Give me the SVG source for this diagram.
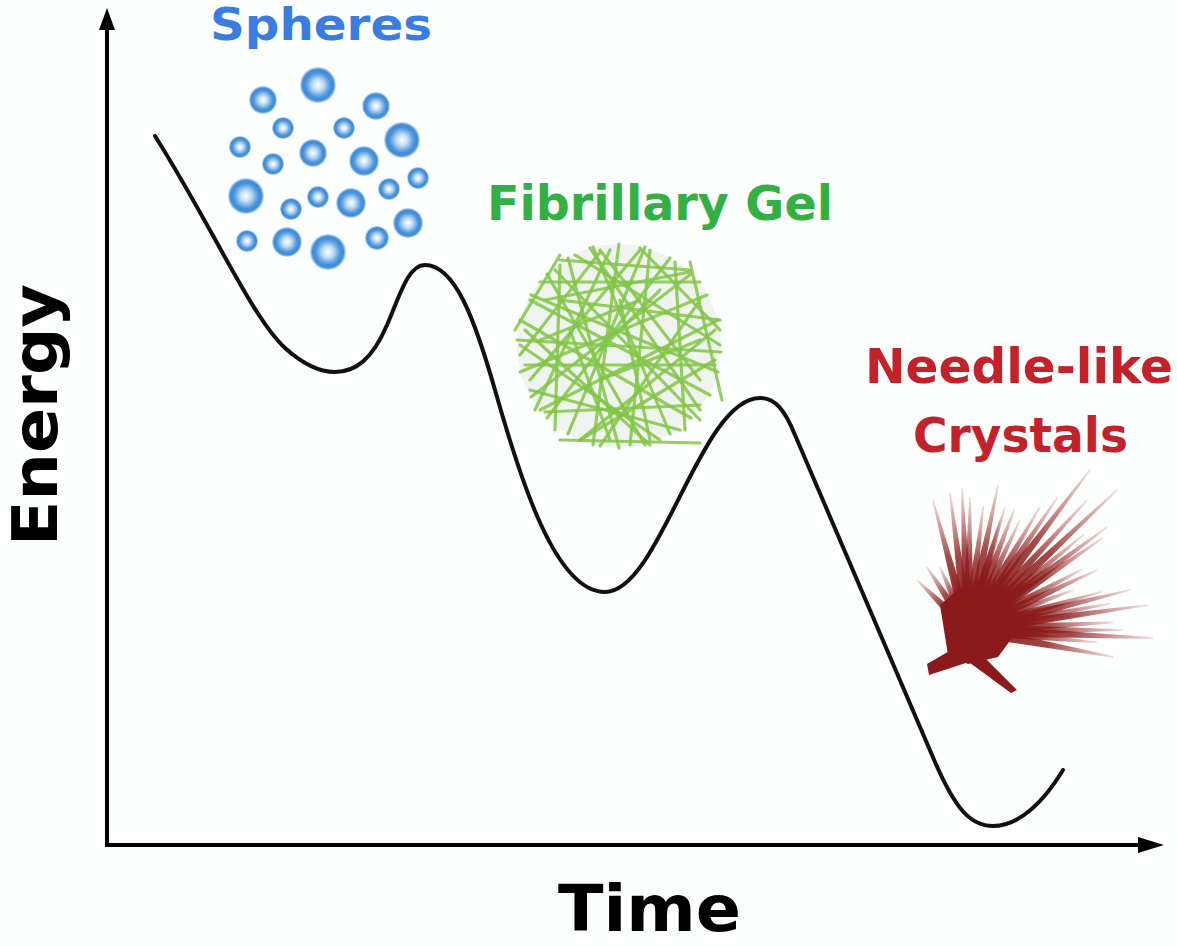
<svg xmlns="http://www.w3.org/2000/svg" xmlns:xlink="http://www.w3.org/1999/xlink" width="1177" height="946" viewBox="0 0 1177 946">
<style>
.lbl{font-family:"DejaVu Sans","Verdana",sans-serif;font-weight:bold;}
.axis{stroke:#000;stroke-width:4;fill:none;}
.curve{stroke:#111;stroke-width:4;fill:none;stroke-linecap:round;stroke-linejoin:round;}
.sph{fill:url(#sg);}
.fib{stroke:#82c646;stroke-width:3.2;stroke-opacity:0.85;stroke-linecap:round;}
</style>
<defs>
<radialGradient id="sg" cx="0.5" cy="0.5" r="0.5">
<stop offset="0" stop-color="#ffffff"/>
<stop offset="0.3" stop-color="#c4def6"/>
<stop offset="0.68" stop-color="#4a95dc"/>
<stop offset="0.86" stop-color="#3f8ad6"/>
<stop offset="1" stop-color="#8fbdea" stop-opacity="0.5"/>
</radialGradient>
<linearGradient id="ng" x1="0" y1="0" x2="1" y2="0">
<stop offset="0" stop-color="#8b1a1a" stop-opacity="1"/>
<stop offset="0.55" stop-color="#8b1a1a" stop-opacity="0.8"/>
<stop offset="1" stop-color="#a33030" stop-opacity="0.15"/>
</linearGradient>
<polygon id="nd" points="0,-6 100,-0.8 100,0.8 0,6" fill="url(#ng)"/>
</defs>
<rect width="1177" height="946" fill="#fdfefe"/>

<g id="axes">
<line class="axis" x1="107" y1="26" x2="107" y2="847"/>
<line class="axis" x1="105" y1="845" x2="1140" y2="845"/>
<polygon points="107,8 99,30 115,30" fill="#000"/>
<polygon points="1164,845 1138,837 1138,853" fill="#000"/>
</g>

<g id="energy-curve">
<path class="curve" d="M155,136 C212,226 252,318 285,348 C305,366 320,372 335,372 C355,372 372,360 387,325 C400,295 408,265 425,265 C455,265 475,320 495,390 C520,478 555,592 605,592 C660,592 700,398 760,398 C775,398 785,410 795,435 L935,762 C955,808 970,826 993,826 C1020,826 1045,800 1063,770"/>
</g>

<g id="spheres">
<text class="lbl" x="210" y="40" font-size="45" fill="#3a7de0" textLength="222" lengthAdjust="spacingAndGlyphs">Spheres</text>
<circle class="sph" cx="318" cy="85" r="18"/>
<circle class="sph" cx="263" cy="100" r="14"/>
<circle class="sph" cx="376" cy="106" r="14"/>
<circle class="sph" cx="283" cy="128" r="11"/>
<circle class="sph" cx="344" cy="128" r="11"/>
<circle class="sph" cx="402" cy="140" r="18"/>
<circle class="sph" cx="240" cy="147" r="11"/>
<circle class="sph" cx="313" cy="153" r="14"/>
<circle class="sph" cx="364" cy="161" r="15"/>
<circle class="sph" cx="273" cy="164" r="11"/>
<circle class="sph" cx="418" cy="178" r="11"/>
<circle class="sph" cx="246" cy="196" r="18"/>
<circle class="sph" cx="389" cy="189" r="11"/>
<circle class="sph" cx="318" cy="197" r="11"/>
<circle class="sph" cx="351" cy="203" r="15"/>
<circle class="sph" cx="291" cy="209" r="11"/>
<circle class="sph" cx="408" cy="223" r="15"/>
<circle class="sph" cx="247" cy="241" r="11"/>
<circle class="sph" cx="287" cy="242" r="15"/>
<circle class="sph" cx="328" cy="252" r="18"/>
<circle class="sph" cx="377" cy="238" r="12"/>
</g>

<g id="fibrillary-gel">
<text class="lbl" x="487" y="220" font-size="48" fill="#33b043" textLength="346" lengthAdjust="spacingAndGlyphs">Fibrillary Gel</text>
<circle cx="619" cy="346" r="102" fill="#f0f4f1"/>
<g class="fib">
<line x1="593" y1="247" x2="670" y2="434"/>
<line x1="645" y1="247" x2="568" y2="434"/>
<line x1="531" y1="295" x2="718" y2="372"/>
<line x1="520" y1="372" x2="707" y2="295"/>
<line x1="568" y1="258" x2="619" y2="448"/>
<line x1="670" y1="258" x2="547" y2="418"/>
<line x1="517" y1="340" x2="721" y2="352"/>
<line x1="520" y1="320" x2="691" y2="418"/>
<line x1="531" y1="397" x2="691" y2="274"/>
<line x1="547" y1="274" x2="645" y2="445"/>
<line x1="619" y1="244" x2="593" y2="445"/>
<line x1="718" y1="320" x2="540" y2="410"/>
<line x1="540" y1="282" x2="700" y2="282"/>
<line x1="545" y1="412" x2="700" y2="405"/>
<line x1="560" y1="265" x2="555" y2="430"/>
<line x1="675" y1="262" x2="685" y2="430"/>
<line x1="600" y1="250" x2="700" y2="380"/>
<line x1="530" y1="380" x2="640" y2="250"/>
<line x1="525" y1="330" x2="650" y2="445"/>
<line x1="580" y1="440" x2="715" y2="330"/>
<line x1="640" y1="248" x2="720" y2="330"/>
<line x1="520" y1="355" x2="600" y2="252"/>
<line x1="700" y1="300" x2="600" y2="446"/>
<line x1="530" y1="300" x2="710" y2="395"/>
<line x1="525" y1="365" x2="715" y2="365"/>
<line x1="555" y1="270" x2="700" y2="420"/>
<line x1="545" y1="300" x2="690" y2="272"/>
<line x1="575" y1="255" x2="720" y2="345"/>
<line x1="520" y1="345" x2="660" y2="440"/>
<line x1="650" y1="250" x2="630" y2="445"/>
<line x1="590" y1="248" x2="700" y2="410"/>
<line x1="535" y1="410" x2="610" y2="250"/>
<line x1="715" y1="360" x2="580" y2="440"/>
<line x1="560" y1="300" x2="720" y2="320"/>
<line x1="530" y1="390" x2="680" y2="430"/>
<line x1="620" y1="300" x2="650" y2="440"/>
<line x1="540" y1="340" x2="640" y2="300"/>
<line x1="600" y1="380" x2="700" y2="340"/>
<line x1="570" y1="330" x2="610" y2="440"/>
<line x1="660" y1="290" x2="600" y2="350"/>
<line x1="560" y1="260" x2="690" y2="270"/>
<line x1="560" y1="440" x2="700" y2="443"/>
<line x1="515" y1="330" x2="560" y2="255"/>
<line x1="690" y1="262" x2="722" y2="400"/>
</g>
</g>

<g id="needle-crystals">
<text class="lbl" x="865" y="383" font-size="48" fill="#c4222b" textLength="308" lengthAdjust="spacingAndGlyphs">Needle-like</text>
<text class="lbl" x="913" y="452" font-size="48" fill="#c4222b" textLength="215" lengthAdjust="spacingAndGlyphs">Crystals</text>
<g>
<polygon points="940,605 960,588 985,592 1003,610 1012,638 998,657 968,664 948,655" fill="#8b1a1a"/>
<use xlink:href="#nd" transform="translate(968,630) rotate(-105.1) scale(1.346,1)"/>
<use xlink:href="#nd" transform="translate(968,630) rotate(-97.5) scale(1.382,1)"/>
<use xlink:href="#nd" transform="translate(968,630) rotate(-92.4) scale(1.421,1)"/>
<use xlink:href="#nd" transform="translate(968,630) rotate(-89.1) scale(1.33,1)"/>
<use xlink:href="#nd" transform="translate(968,630) rotate(-83) scale(1.25,1)"/>
<use xlink:href="#nd" transform="translate(968,630) rotate(-78.3) scale(1.481,1)"/>
<use xlink:href="#nd" transform="translate(968,630) rotate(-73.3) scale(1.284,1)"/>
<use xlink:href="#nd" transform="translate(968,630) rotate(-135.6) scale(0.714,1)"/>
<use xlink:href="#nd" transform="translate(968,630) rotate(-123.1) scale(0.752,1)"/>
<use xlink:href="#nd" transform="translate(968,630) rotate(-114) scale(0.689,1)"/>
<use xlink:href="#nd" transform="translate(968,630) rotate(-105) scale(0.694,1)"/>
<use xlink:href="#nd" transform="translate(968,630) rotate(-52.7) scale(2.012,1)"/>
<use xlink:href="#nd" transform="translate(968,630) rotate(-43.2) scale(2.045,1)"/>
<use xlink:href="#nd" transform="translate(968,630) rotate(-47.5) scale(1.762,1)"/>
<use xlink:href="#nd" transform="translate(968,630) rotate(-59.7) scale(1.425,1)"/>
<use xlink:href="#nd" transform="translate(968,630) rotate(-56) scale(1.6,1)"/>
<use xlink:href="#nd" transform="translate(968,630) rotate(-64.7) scale(1.217,1)"/>
<use xlink:href="#nd" transform="translate(968,630) rotate(-69) scale(1.3,1)"/>
<use xlink:href="#nd" transform="translate(968,630) rotate(-73.8) scale(1.146,1)"/>
<use xlink:href="#nd" transform="translate(968,630) rotate(-36.5) scale(1.73,1)"/>
<use xlink:href="#nd" transform="translate(968,630) rotate(-39.5) scale(1.5,1)"/>
<use xlink:href="#nd" transform="translate(968,630) rotate(-34.3) scale(1.634,1)"/>
<use xlink:href="#nd" transform="translate(968,630) rotate(-28) scale(1.3,1)"/>
<use xlink:href="#nd" transform="translate(968,630) rotate(-24.9) scale(1.423,1)"/>
<use xlink:href="#nd" transform="translate(968,630) rotate(-20.9) scale(1.124,1)"/>
<use xlink:href="#nd" transform="translate(968,630) rotate(-16) scale(1.4,1)"/>
<use xlink:href="#nd" transform="translate(968,630) rotate(-13.9) scale(1.669,1)"/>
<use xlink:href="#nd" transform="translate(968,630) rotate(-10.5) scale(1.45,1)"/>
<use xlink:href="#nd" transform="translate(968,630) rotate(-7.9) scale(1.817,1)"/>
<use xlink:href="#nd" transform="translate(968,630) rotate(-7.6) scale(1.13,1)"/>
<use xlink:href="#nd" transform="translate(968,630) rotate(-3) scale(1.45,1)"/>
<use xlink:href="#nd" transform="translate(968,630) rotate(0) scale(1.55,1)"/>
<use xlink:href="#nd" transform="translate(968,630) rotate(2.5) scale(1.852,1)"/>
<use xlink:href="#nd" transform="translate(968,630) rotate(5.5) scale(1.3,1)"/>
<use xlink:href="#nd" transform="translate(968,630) rotate(10.5) scale(1.475,1)"/>
<polygon points="975,648 1017,690 1011,693 966,660" fill="#8b1a1a"/>
<polygon points="958,646 927,664 929,675 966,663" fill="#8b1a1a"/>
</g>
</g>

<g id="axis-labels">
<text class="lbl" x="558" y="931" font-size="64" fill="#000" textLength="183" lengthAdjust="spacingAndGlyphs">Time</text>
<text class="lbl" transform="translate(57,546) rotate(-90)" x="0" y="0" font-size="62" fill="#000" textLength="262" lengthAdjust="spacingAndGlyphs">Energy</text>
</g>
</svg>
